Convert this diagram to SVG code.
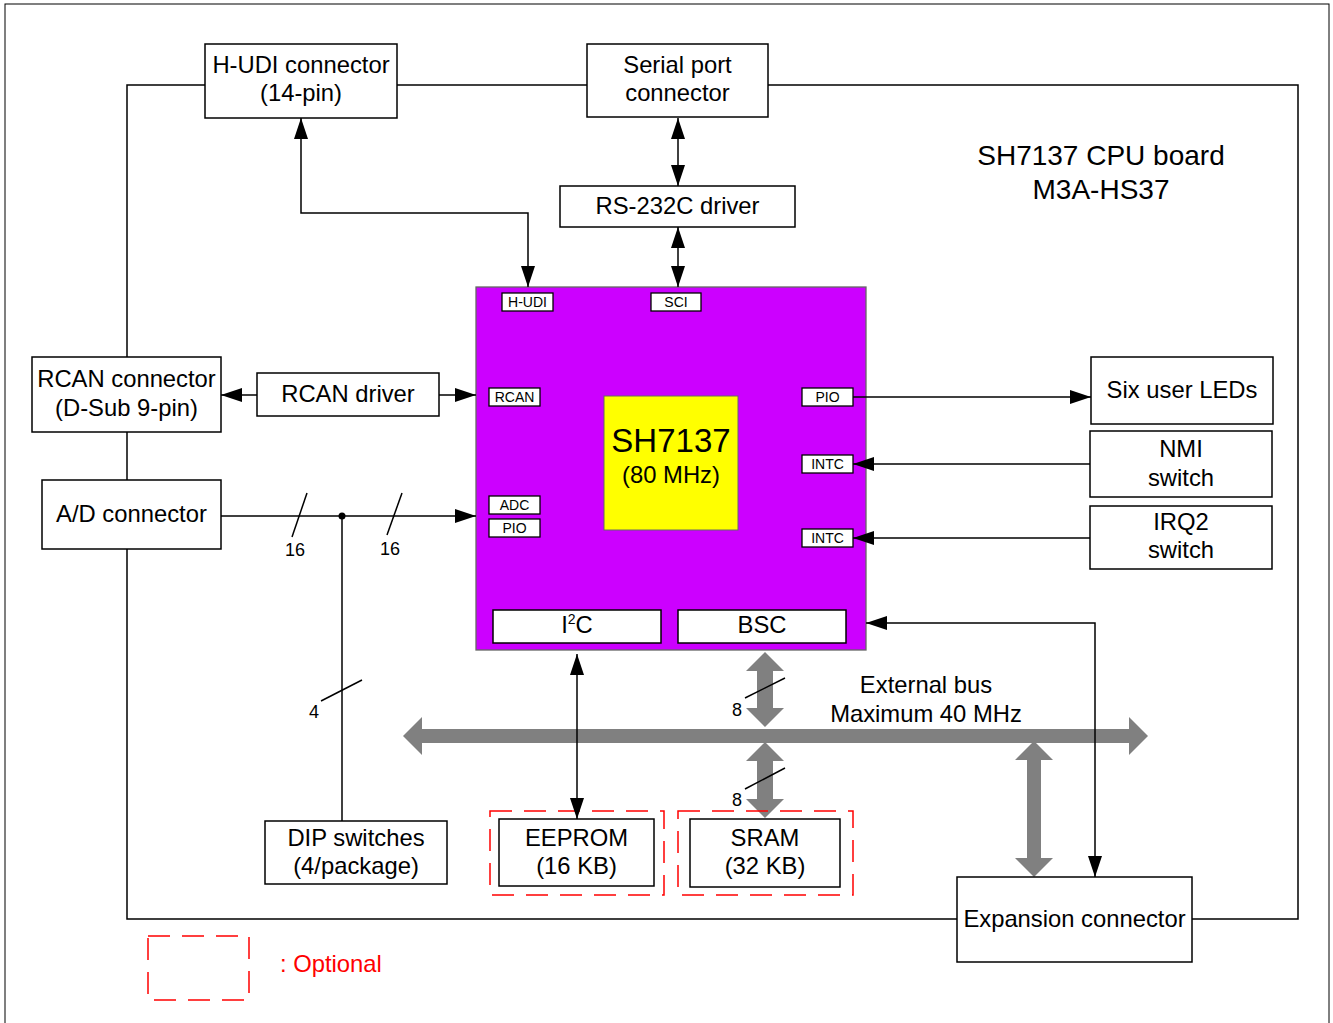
<svg xmlns="http://www.w3.org/2000/svg" width="1333" height="1023" viewBox="0 0 1333 1023">
<defs>
<style>
.box{fill:#fff;stroke:#000;stroke-width:1.5}
.sm{fill:#fff;stroke:#000;stroke-width:1.3}
.t{font-family:"Liberation Sans",Arial,sans-serif;font-size:23.8px;fill:#000;text-anchor:middle}
.ts{font-family:"Liberation Sans",Arial,sans-serif;font-size:14px;fill:#000;text-anchor:middle}
.tn{font-family:"Liberation Sans",Arial,sans-serif;font-size:18px;fill:#000;text-anchor:middle}
.ln{fill:none;stroke:#000;stroke-width:1.5}
.bus{fill:#808080;stroke:none}
.opt{fill:none;stroke:#ff0000;stroke-width:1.5;stroke-dasharray:22 12}
</style>
<marker id="ah" markerUnits="userSpaceOnUse" markerWidth="22" markerHeight="16" refX="21" refY="7" orient="auto-start-reverse" viewBox="0 0 22 14">
<path d="M0,0 L21,7 L0,14 z" fill="#000"/>
</marker>
</defs>
<rect x="0" y="0" width="1333" height="1023" fill="#fff"/>
<rect x="5" y="4" width="1324" height="1040" fill="none" stroke="#000" stroke-width="1"/>

<g id="board-outline">
<polyline class="ln" points="205,85 127,85 127,357"/>
<line class="ln" x1="127" y1="432" x2="127" y2="480"/>
<polyline class="ln" points="127,549 127,919 957,919"/>
<polyline class="ln" points="1192,919 1298,919 1298,85 768,85"/>
<line class="ln" x1="587" y1="85" x2="397" y2="85"/>
</g>

<g id="title">
<text class="t" x="1101" y="165" style="font-size:28px">SH7137 CPU board</text>
<text class="t" x="1101" y="199" style="font-size:28px">M3A-HS37</text>
</g>

<g id="bus-arrows">
<polygon class="bus" points="403,736 422,717 422,729 1129,729 1129,717 1148,736 1129,755 1129,743 422,743 422,755"/>
<polygon class="bus" points="765,652 784,671 773,671 773,708 784,708 765,727 746,708 757,708 757,671 746,671"/>
<polygon class="bus" points="765,742 784,761 773,761 773,799 784,799 765,818 746,799 757,799 757,761 746,761"/>
<polygon class="bus" points="1034,741 1053,760 1041,760 1041,858 1053,858 1034,877 1015,858 1027,858 1027,760 1015,760"/>
<line class="ln" x1="745" y1="698" x2="785" y2="678"/>
<text class="tn" x="737" y="716">8</text>
<line class="ln" x1="745" y1="789" x2="785" y2="768"/>
<text class="tn" x="737" y="806">8</text>
<text class="t" x="926" y="693">External bus</text>
<text class="t" x="926" y="722">Maximum 40 MHz</text>
</g>

<g id="cpu">
<rect x="476" y="287" width="390" height="363" fill="#cc00ff" stroke="#666" stroke-width="1.3"/>
<rect x="604" y="396" width="134" height="134" fill="#ffff00" stroke="#666" stroke-width="1"/>
<text class="t" x="671" y="452" style="font-size:33px">SH7137</text>
<text class="t" x="671" y="483">(80 MHz)</text>
<g id="port-hudi"><rect class="sm" x="502" y="293" width="51" height="18"/><text class="ts" x="527.5" y="307">H-UDI</text></g>
<g id="port-sci"><rect class="sm" x="651" y="293" width="50" height="18"/><text class="ts" x="676" y="307">SCI</text></g>
<g id="port-rcan"><rect class="sm" x="489" y="388" width="51" height="18"/><text class="ts" x="514.5" y="402">RCAN</text></g>
<g id="port-adc"><rect class="sm" x="489" y="496" width="51" height="18"/><text class="ts" x="514.5" y="510">ADC</text></g>
<g id="port-pio-l"><rect class="sm" x="489" y="519" width="51" height="18"/><text class="ts" x="514.5" y="533">PIO</text></g>
<g id="port-pio-r"><rect class="sm" x="802" y="388" width="51" height="18"/><text class="ts" x="827.5" y="402">PIO</text></g>
<g id="port-intc1"><rect class="sm" x="802" y="455" width="51" height="18"/><text class="ts" x="827.5" y="469">INTC</text></g>
<g id="port-intc2"><rect class="sm" x="802" y="529" width="51" height="18"/><text class="ts" x="827.5" y="543">INTC</text></g>
<g id="port-i2c"><rect class="box" x="493" y="610" width="168" height="33"/><text class="t" x="577" y="633">I<tspan dy="-9" style="font-size:14px">2</tspan><tspan dy="9">C</tspan></text></g>
<g id="port-bsc"><rect class="box" x="678" y="610" width="168" height="33"/><text class="t" x="762" y="633">BSC</text></g>
</g>

<g id="hudi-connector"><rect class="box" x="205" y="44" width="192" height="74"/><text class="t" x="301" y="73">H-UDI connector</text><text class="t" x="301" y="101">(14-pin)</text></g>
<g id="serial-connector"><rect class="box" x="587" y="44" width="181" height="73"/><text class="t" x="677.5" y="73">Serial port</text><text class="t" x="677.5" y="101">connector</text></g>
<g id="rs232c-driver"><rect class="box" x="560" y="186" width="235" height="41"/><text class="t" x="677.5" y="214">RS-232C driver</text></g>
<g id="rcan-connector"><rect class="box" x="32" y="357" width="189" height="75"/><text class="t" x="126.5" y="387">RCAN connector</text><text class="t" x="126.5" y="416">(D-Sub 9-pin)</text></g>
<g id="rcan-driver"><rect class="box" x="257" y="373" width="182" height="43"/><text class="t" x="348" y="402">RCAN driver</text></g>
<g id="ad-connector"><rect class="box" x="42" y="480" width="179" height="69"/><text class="t" x="131.5" y="522">A/D connector</text></g>
<g id="dip-switches"><rect class="box" x="265" y="821" width="182" height="63"/><text class="t" x="356" y="846">DIP switches</text><text class="t" x="356" y="874">(4/package)</text></g>
<g id="eeprom"><rect class="opt" x="490" y="811" width="174" height="84"/><rect class="box" x="499" y="819" width="155" height="67"/><text class="t" x="576.5" y="846">EEPROM</text><text class="t" x="576.5" y="874">(16 KB)</text></g>
<g id="sram"><rect class="opt" x="678" y="811" width="175" height="84"/><rect class="box" x="690" y="819" width="150" height="68"/><text class="t" x="765" y="846">SRAM</text><text class="t" x="765" y="874">(32 KB)</text></g>
<g id="six-leds"><rect class="box" x="1091" y="357" width="182" height="67"/><text class="t" x="1182" y="398">Six user LEDs</text></g>
<g id="nmi-switch"><rect class="box" x="1090" y="431" width="182" height="66"/><text class="t" x="1181" y="457">NMI</text><text class="t" x="1181" y="486">switch</text></g>
<g id="irq2-switch"><rect class="box" x="1090" y="506" width="182" height="63"/><text class="t" x="1181" y="530">IRQ2</text><text class="t" x="1181" y="558">switch</text></g>
<g id="expansion-connector"><rect class="box" x="957" y="877" width="235" height="85"/><text class="t" x="1074.5" y="927">Expansion connector</text></g>

<g id="legend">
<rect class="opt" x="148" y="936" width="101" height="64"/>
<text class="t" x="280" y="972" style="text-anchor:start;fill:#ff0000">: Optional</text>
</g>

<g id="connectors">
<polyline class="ln" points="528,287 528,213 301,213 301,118" marker-start="url(#ah)" marker-end="url(#ah)"/>
<line class="ln" x1="678" y1="118" x2="678" y2="186" marker-start="url(#ah)" marker-end="url(#ah)"/>
<line class="ln" x1="678" y1="227" x2="678" y2="287" marker-start="url(#ah)" marker-end="url(#ah)"/>
<line class="ln" x1="257" y1="395" x2="221" y2="395" marker-end="url(#ah)"/>
<line class="ln" x1="439" y1="395" x2="476" y2="395" marker-end="url(#ah)"/>
<line class="ln" x1="221" y1="516" x2="476" y2="516" marker-end="url(#ah)"/>
<line class="ln" x1="292" y1="537" x2="307" y2="493"/>
<text class="tn" x="295" y="556">16</text>
<line class="ln" x1="387" y1="535" x2="402" y2="493"/>
<text class="tn" x="390" y="555">16</text>
<circle cx="342" cy="516" r="3.5" fill="#000"/>
<line class="ln" x1="342" y1="516" x2="342" y2="821"/>
<line class="ln" x1="321" y1="701" x2="362" y2="680"/>
<text class="tn" x="314" y="718">4</text>
<line class="ln" x1="853" y1="397" x2="1091" y2="397" marker-end="url(#ah)"/>
<line class="ln" x1="1090" y1="464" x2="853" y2="464" marker-end="url(#ah)"/>
<line class="ln" x1="1090" y1="538" x2="853" y2="538" marker-end="url(#ah)"/>
<polyline class="ln" points="866,623 1095,623 1095,877" marker-start="url(#ah)" marker-end="url(#ah)"/>
<line class="ln" x1="577" y1="654" x2="577" y2="819" marker-start="url(#ah)" marker-end="url(#ah)"/>
</g>
</svg>
